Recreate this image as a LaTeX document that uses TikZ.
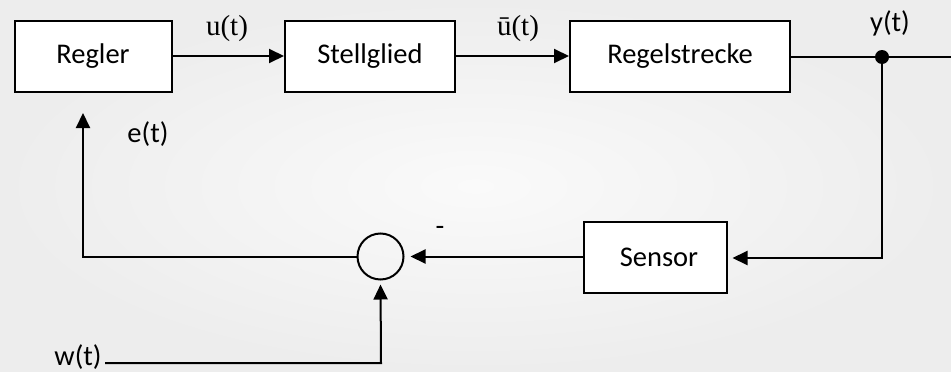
\documentclass[tikz,border=0pt]{standalone}
\usepackage{fontspec}
\setmainfont{Carlito}
\newfontfamily\timesfont{Liberation Serif}
\usetikzlibrary{arrows.meta}
\definecolor{bgin}{RGB}{250,250,250}
\definecolor{bgout}{RGB}{237,237,237}
\begin{document}
\begin{tikzpicture}[x=1pt,y=-1pt,
  every node/.style={font=\fontsize{28.5}{32}\selectfont},
  block/.style={draw, line width=2pt, fill=white, minimum height=71pt, inner sep=0pt},
  conn/.style={line width=2pt},
  arr/.style={conn, -{Triangle[length=15pt,width=14pt]}},
  lbl/.style={inner sep=0pt},
  serifl/.style={lbl, font=\timesfont\fontsize{29}{32}\selectfont}
]
\useasboundingbox (0,0) rectangle (951,372);
\shade[inner color=bgin, outer color=bgout] (0,0) rectangle (951,372);

\node[block, minimum width=157pt] (regler) at (93,56) {Regler};
\node[block, minimum width=170pt] (stell) at (370,56) {Stellglied};
\node[block, minimum width=220pt] (strecke) at (680,56) {Regelstrecke};
\node[block, minimum width=143pt] (sensor) at (655,257.5) {\hspace*{8pt}Sensor};
\node[draw, circle, line width=2pt, minimum size=46pt, inner sep=0pt] (sum) at (380.5,256.5) {};
\node[circle, fill, minimum size=14pt, inner sep=0pt] (dot) at (882,57) {};

\coordinate (yend) at (951,57);
\coordinate (ycorner) at (882,258);
\coordinate (ecorner) at (83,256.5);
\coordinate (etip) at (83,113);
\coordinate (wstart) at (105,363);
\coordinate (wcorner) at (381,363);

\draw[arr] (regler.east) -- (stell.west);
\draw[arr] (stell.east) -- (strecke.west);
\draw[conn] (strecke.east |- dot) -- (dot.center) -- (yend);
\draw[arr, shorten >=5pt] (dot.center) -- (ycorner) -- (sensor.east |- ycorner);
\draw[arr, shorten >=6pt] (sensor.west |- sum) -- (sum.east);
\draw[arr] (sum.west) -- (ecorner) -- (etip);
\draw[arr, shorten >=4pt] (wstart) -- (wcorner) -- (sum.south);

\node[serifl] (ul) at (227,29) {u(t)};
\node[serifl] (ubl) at (518,29) {ū(t)};
\node[lbl] (yl) at (890,23) {y(t)};
\node[lbl] (el) at (148,134) {e(t)};
\node[lbl] (ml) at (440,231) {-};
\node[lbl] (wl) at (78,357) {w(t)};
\end{tikzpicture}
\end{document}
